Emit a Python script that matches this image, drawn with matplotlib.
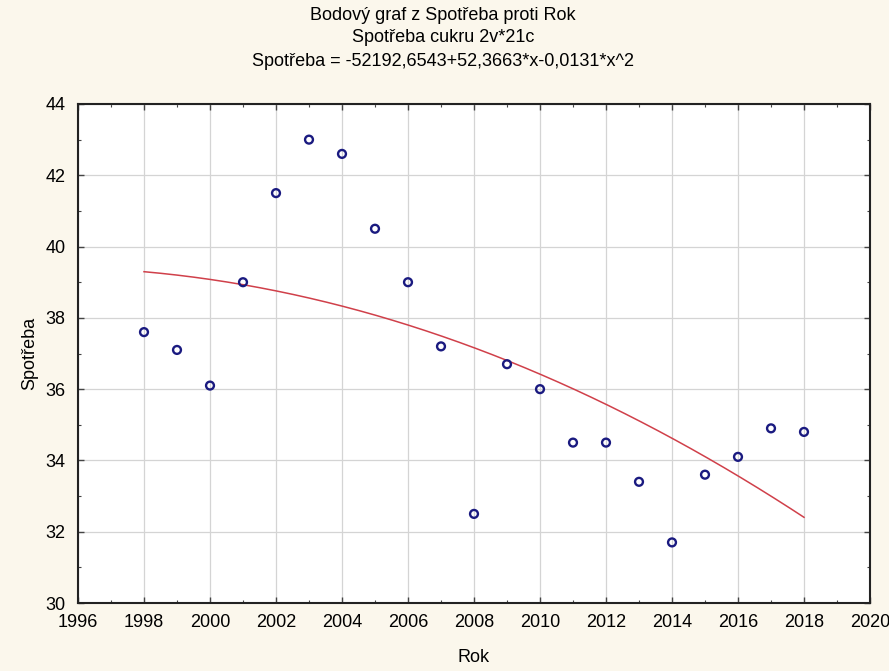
import numpy as np
import matplotlib.pyplot as plt
from matplotlib.ticker import MultipleLocator

# data
rok = [1998, 1999, 2000, 2001, 2002, 2003, 2004, 2005, 2006, 2007, 2008,
       2009, 2010, 2011, 2012, 2013, 2014, 2015, 2016, 2017, 2018]
spotreba = [37.6, 37.1, 36.1, 39.0, 41.5, 43.0, 42.6, 40.5, 39.0, 37.2, 32.5,
            36.7, 36.0, 34.5, 34.5, 33.4, 31.7, 33.6, 34.1, 34.9, 34.8]

title_lines = ['Bodový graf z Spotřeba proti Rok',
               'Spotřeba cukru 2v*21c',
               'Spotřeba = -52192,6543+52,3663*x-0,0131*x^2']

plt.rcParams['font.family'] = ['Liberation Sans', 'DejaVu Sans']
bg = '#fbf7ec'

fig = plt.figure(figsize=(8.89, 6.71), dpi=100, facecolor=bg)
ax = fig.add_axes([78/889, 1 - 603/671, (870 - 78)/889, (603 - 104)/671])
ax.set_facecolor('white')

# quadratic fit, same as the one in the title
x = np.array(rok, dtype=float)
y = np.array(spotreba)
coef = np.polyfit(x - x.mean(), y, 2)
xs = np.linspace(x.min(), x.max(), 200)
ax.plot(xs, np.polyval(coef, xs - x.mean()), color='#d0404a', lw=1.1, zorder=2)

ax.scatter(rok, spotreba, s=32, facecolors='none', edgecolors='#1a1a80',
           linewidths=1.7, zorder=3)

ax.set_xlim(1996, 2020)
ax.set_ylim(30, 44)
ax.xaxis.set_major_locator(MultipleLocator(2))
ax.xaxis.set_minor_locator(MultipleLocator(1))
ax.yaxis.set_major_locator(MultipleLocator(2))
ax.yaxis.set_minor_locator(MultipleLocator(1))
ax.grid(True, which='major', color='#d4d4d4', lw=0.9, zorder=0)
ax.set_axisbelow(True)

ax.tick_params(which='both', direction='in', top=True, right=True,
               labelsize=13, color='#444444')
ax.tick_params(which='major', length=4, width=1, pad=8)
ax.tick_params(which='minor', length=2.5, width=0.8)
ax.tick_params(axis='y', pad=9)
for s in ax.spines.values():
    s.set_linewidth(1.5)
    s.set_color('#222222')

ax.set_xlabel('Rok', fontsize=13, labelpad=13)
ax.set_ylabel('Spotřeba', fontsize=13, labelpad=5)

for i, t in enumerate(title_lines):
    fig.text(0.498, 1 - (15 + 23*i)/671, t, ha='center', va='center', fontsize=13)

fig.savefig('out.png', dpi=100, facecolor=bg)
